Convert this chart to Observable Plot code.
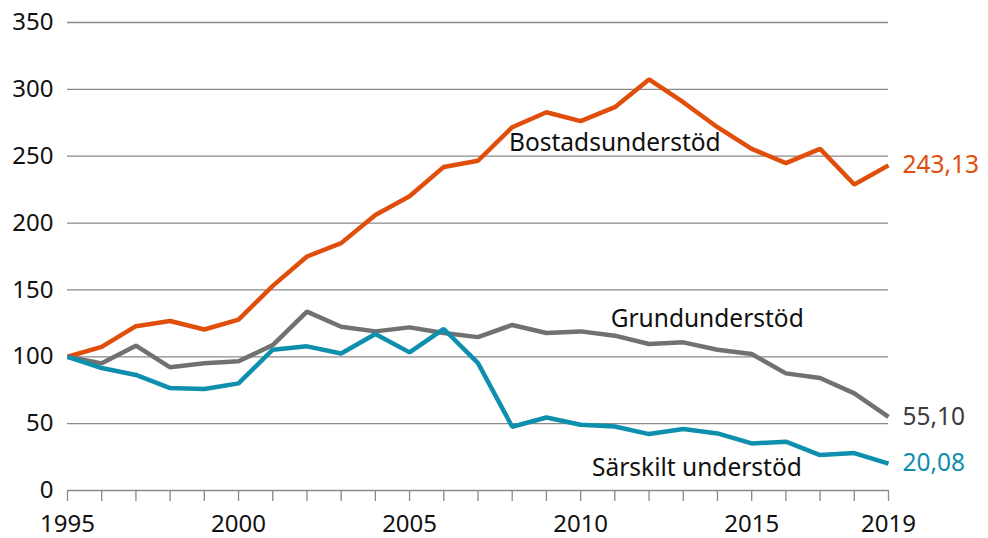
<!DOCTYPE html>
<html>
<head>
<meta charset="utf-8">
<script src="https://cdn.jsdelivr.net/npm/d3@7"></script>
<script src="https://cdn.jsdelivr.net/npm/@observablehq/plot@0.6"></script>
<style>
  html, body { margin: 0; padding: 0; background: #fff; }
  #chart svg { display: block; }
</style>
</head>
<body>
<div id="chart"></div>
<script>
const years = d3.range(1995, 2020);
const bostad = [100, 107.4, 122.9, 126.8, 120.4, 127.8, 153, 175, 185, 206, 220, 242, 246.6, 271.7, 282.9, 276.2, 286.7, 307.4, 290.4, 271.7, 255.5, 244.8, 255.5, 228.8, 243.13];
const grund = [100, 95.1, 108.3, 92.1, 95.1, 96.6, 108.8, 133.8, 122.5, 119, 122, 117.8, 114.7, 123.8, 117.8, 119, 115.8, 109.6, 110.8, 105.3, 102.1, 87.6, 84.1, 72.6, 55.10];
const sarskilt = [100, 91.6, 86.4, 76.6, 75.9, 80.1, 105.3, 107.8, 102.5, 117.1, 103.3, 120.8, 95.3, 47.7, 54.6, 49.2, 47.9, 42.2, 46, 42.7, 35.2, 36.5, 26.5, 28, 20.08];
const seriesNames = ["Bostadsunderstöd", "Grundunderstöd", "Särskilt understöd"];
const seriesColors = ["#e04e0c", "#717171", "#0e8fae"];
const endLabelColors = ["#e04e0c", "#3c3c3c", "#0e8fae"];
const endLabels = ["243,13", "55,10", "20,08"];
const yTicks = [0, 50, 100, 150, 200, 250, 300, 350];
const xTickLabels = [1995, 2000, 2005, 2010, 2015, 2019];
// label anchor positions (data units)
const labelYears = [2011.0, 2013.7, 2013.4];
const labelValues = [259.5, 128.5, 17];

const valuesBySeries = [bostad, grund, sarskilt];
const rows = [];
seriesNames.forEach((s, i) => years.forEach((y, j) => rows.push({series: s, year: y, value: valuesBySeries[i][j]})));
const ends = seriesNames.map((s, i) => ({series: s, year: 2019, value: valuesBySeries[i][24], label: endLabels[i], color: endLabelColors[i]}));
const names = seriesNames.map((s, i) => ({series: s, year: labelYears[i], value: labelValues[i]}));

const font = "'Noto Sans', sans-serif";
const fs = 24;
const chart = Plot.plot({
  width: 988,
  height: 538,
  marginLeft: 67,
  marginRight: 100,
  marginTop: 22,
  marginBottom: 48,
  style: {fontFamily: font, fontSize: fs + "px", color: "#111", background: "#fff", overflow: "visible"},
  x: {domain: [1995, 2019], label: null},
  y: {domain: [0, 350], label: null},
  color: {domain: seriesNames, range: seriesColors},
  marks: [
    Plot.ruleY(yTicks.filter(d => d > 0), {x1: 1995, x2: 2019, stroke: "#8a8a8a", strokeWidth: 1.3}),
    Plot.ruleY([0], {x1: 1995, x2: 2019, stroke: "#8a8a8a", strokeWidth: 1.3}),
    Plot.axisY({ticks: yTicks, tickSize: 0, tickPadding: 14, fontSize: fs, label: null}),
    Plot.axisX({ticks: years, tickSize: 11, tickFormat: () => "", stroke: "#8a8a8a", strokeWidth: 1.3, label: null}),
    Plot.axisX({ticks: xTickLabels, tickSize: 0, tickPadding: 24, tickFormat: d => String(d), fontSize: fs, label: null}),
    Plot.line(rows, {x: "year", y: "value", z: "series", stroke: "series", strokeWidth: 4.5, strokeLinejoin: "miter", strokeLinecap: "butt"}),
    Plot.text(names, {x: "year", y: "value", text: "series", fill: "#111", fontSize: fs + 0.5, textAnchor: "middle"}),
    Plot.text(ends, {x: "year", y: "value", text: "label", fill: d => d.color, fontSize: fs + 0.5, textAnchor: "start", dx: 14, letterSpacing: "0.8px"})
  ]
});
document.getElementById("chart").appendChild(chart);
</script>
</body>
</html>
